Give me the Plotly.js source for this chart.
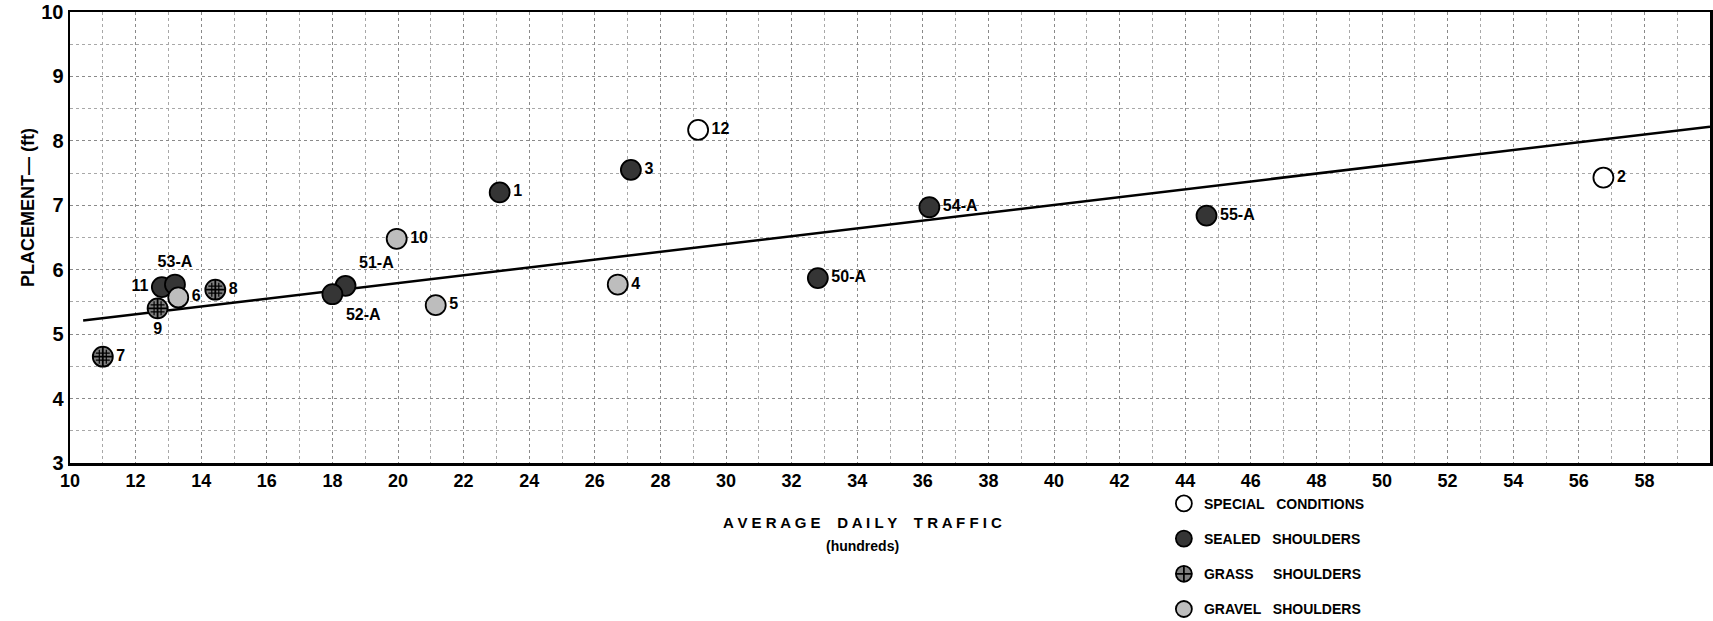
<!DOCTYPE html>
<html><head><meta charset="utf-8">
<script src="https://cdn.plot.ly/plotly-3.0.1.min.js"></script>
<style>html,body{margin:0;padding:0;background:#fff}#chart{width:1713px;height:621px}</style>
</head><body><div id="chart"></div>
<script>
// ---- data ----
const siteLabels     = ["1","2","3","4","5","6","7","8","9","10","11","12","50-A","51-A","52-A","53-A","54-A","55-A"];
const trafficHundreds= [23.1,56.75,27.1,26.7,21.15,13.3,11.0,14.43,12.67,19.96,12.8,29.15,32.8,18.4,18.0,13.2,36.2,44.65];
const placementFt    = [7.2,7.43,7.55,5.77,5.45,5.57,4.65,5.69,5.40,6.48,5.73,8.17,5.87,5.75,5.62,5.77,6.97,6.84];
const shoulderType   = ["sealed","special","sealed","gravel","gravel","gravel","grass","grass","grass","gravel","sealed","special","sealed","sealed","sealed","sealed","sealed","sealed"];
const categories     = ["special","sealed","grass","gravel"];
const categoryNames  = ["SPECIAL&nbsp;&nbsp;&nbsp;CONDITIONS","SEALED&nbsp;&nbsp;&nbsp;SHOULDERS","GRASS&nbsp;&nbsp;&nbsp;&nbsp;&nbsp;SHOULDERS","GRAVEL&nbsp;&nbsp;&nbsp;SHOULDERS"];
const trendX         = [10.4, 60];
const trendY         = [5.21, 8.22];
const xTickVals      = [10,12,14,16,18,20,22,24,26,28,30,32,34,36,38,40,42,44,46,48,50,52,54,56,58];
const yTickVals      = [3,4,5,6,7,8,9,10];

// ---- styles ----
const FONT = "Liberation Sans, Arial, sans-serif";
const labelPos = {"1":"middle right","2":"middle right","3":"middle right","4":"middle right","5":"middle right",
  "6":"middle right","7":"middle right","8":"middle right","9":"bottom center","10":"middle right","11":"middle left",
  "12":"middle right","50-A":"middle right","51-A":"top right","52-A":"bottom right","53-A":"top center",
  "54-A":"middle right","55-A":"middle right"};
const markerStyle = {
  special:{symbol:"circle", color:"#ffffff"},
  sealed:{symbol:"circle", color:"#353535"},
  grass:{symbol:"circle-cross", color:"#808080"},
  gravel:{symbol:"circle", color:"#bdbdbd"}
};
const MSIZE = 20;

const traces = [{
  x: trendX, y: trendY, mode: "lines", type: "scatter", showlegend: false,
  line: {color: "#000", width: 2.5}, hoverinfo: "skip"
}];
categories.forEach((c, ci) => {
  const idx = shoulderType.map((t,i)=>t===c?i:-1).filter(i=>i>=0);
  const xs = idx.map(i=>trafficHundreds[i]), ys = idx.map(i=>placementFt[i]);
  traces.push({
    type: "scatter", mode: "markers+text", name: categoryNames[ci], legendgroup: c,
    x: xs, y: ys,
    text: idx.map(i=>siteLabels[i]), textposition: idx.map(i=>labelPos[siteLabels[i]]),
    textfont: {family: FONT, size: 16, color: "#000", weight: "bold"},
    marker: {size: MSIZE, symbol: markerStyle[c].symbol, color: markerStyle[c].color, line: {color: "#000", width: 1.8}},
    cliponaxis: false
  });
  if (c === "grass") {
    traces.push({type: "scatter", mode: "markers", showlegend: false, legendgroup: c, x: xs, y: ys,
      marker: {size: 14, symbol: "hash-open", color: "#000", line: {width: 1.2}}, hoverinfo: "skip"});
  }
});

const layout = {
  width: 1713, height: 621,
  margin: {l: 70, r: 3, t: 12, b: 158, autoexpand: false},
  paper_bgcolor: "#fff", plot_bgcolor: "#fff",
  font: {family: FONT, color: "#000"},
  xaxis: {
    range: [10, 60], tickvals: xTickVals, ticktext: xTickVals.map(String), ticks: "",
    showline: true, linecolor: "#000", linewidth: 2.5, mirror: true, zeroline: false,
    showgrid: true, gridcolor: "#8a8a8a", griddash: "dot", gridwidth: 1,
    tickfont: {family: FONT, size: 18, color: "#000", weight: "bold"},
    minor: {dtick: 1, tick0: 10, showgrid: true, gridcolor: "#a8a8a8", griddash: "dot", gridwidth: 1}
  },
  yaxis: {
    range: [3, 10], tickvals: yTickVals, ticks: "",
    showline: true, linecolor: "#000", linewidth: 2.5, mirror: true, zeroline: false,
    showgrid: true, gridcolor: "#8a8a8a", griddash: "dot", gridwidth: 1,
    tickfont: {family: FONT, size: 20, color: "#000", weight: "bold"},
    minor: {dtick: 0.5, tick0: 3, showgrid: true, gridcolor: "#a8a8a8", griddash: "dot", gridwidth: 1}
  },
  showlegend: true,
  legend: {x: 0.667, xanchor: "left", y: -0.055, yanchor: "top", tracegroupgap: 14,
    font: {family: FONT, size: 14, color: "#000", weight: "bold"}, bgcolor: "rgba(0,0,0,0)"},
  annotations: [
    {xref: "paper", yref: "paper", x: -0.026, xanchor: "center", y: 0.566, yanchor: "middle", textangle: -90, showarrow: false,
     text: "PLACEMENT— (ft)", font: {family: FONT, size: 18, color: "#000", weight: "bold"}},
    {xref: "paper", yref: "paper", x: 0.4835, xanchor: "center", y: -0.133, yanchor: "middle", showarrow: false,
     text: "A V E R A G E&nbsp;&nbsp;&nbsp;&nbsp;D A I L Y&nbsp;&nbsp;&nbsp;&nbsp;T R A F F I C", font: {family: FONT, size: 15, color: "#000", weight: "bold"}},
    {xref: "paper", yref: "paper", x: 0.4835, xanchor: "center", y: -0.184, yanchor: "middle", showarrow: false,
     text: "(hundreds)", font: {family: FONT, size: 14, color: "#000", weight: "bold"}}
  ]
};
Plotly.newPlot("chart", traces, layout, {displayModeBar: false, staticPlot: true});
</script></body></html>
